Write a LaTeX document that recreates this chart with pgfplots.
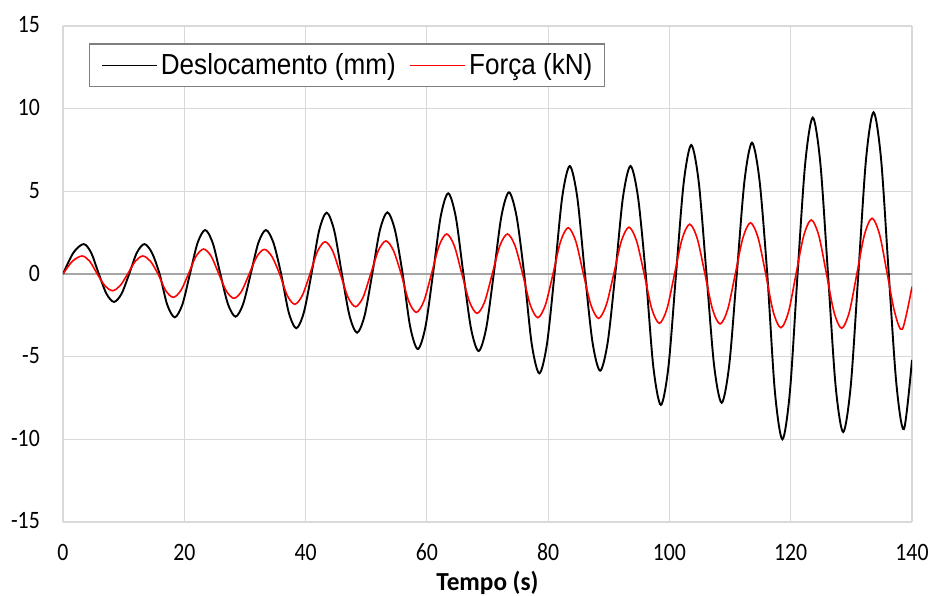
\documentclass[border=0pt]{standalone}
\usepackage{fontspec}
\setmainfont{Carlito}[FakeStretch=0.87]
\newfontfamily\labelfont{Carlito}[FakeStretch=0.97]
\newfontfamily\legendfont{Liberation Sans}[FakeStretch=0.9]
\usepackage{pgfplots}
\pgfplotsset{compat=1.18}
\definecolor{gridgray}{HTML}{D9D9D9}
\definecolor{zerogray}{HTML}{A6A6A6}
\definecolor{legbox}{HTML}{7F7F7F}
\begin{document}
\begin{tikzpicture}
\useasboundingbox (-63pt,-73pt) rectangle (872pt,522pt);
\begin{axis}[
  scale only axis,
  width=849pt, height=496pt,
  at={(0pt,0pt)}, anchor=south west,
  xmin=0, xmax=140, ymin=-15, ymax=15,
  xtick={0,20,40,60,80,100,120,140},
  xticklabels={0,20,40,60,80,100,120,140},
  ytick={-15,-10,-5,0,5,10,15},
  yticklabels={-15,-10,-5,0,5,10,15},
  extra y ticks={0}, extra y tick labels={},
  extra y tick style={grid=major, major grid style={color=zerogray, line width=1.3pt}},
  grid=major,
  major grid style={color=gridgray, line width=1.2pt},
  axis line style={draw=none},
  major tick length=0pt,
  tick label style={font=\fontsize{25}{30}\selectfont, text=black},
  xticklabel style={anchor=base, inner sep=0pt, yshift=-38pt},
  yticklabel style={anchor=east, inner sep=0pt, xshift=-23pt, yshift=1pt},
  xlabel={\labelfont\bfseries Tempo (s)},
  xlabel style={at={(rel axis cs:0.5,0)}, anchor=base, inner sep=0pt, yshift=-68pt, font=\fontsize{26}{31}\selectfont},
  legend columns=2,
  legend cell align=left,
  legend image code/.code={\draw[#1, line width=1.3pt] (0pt,0pt) -- (55pt,0pt);},
  legend style={at={(rel axis cs:0.0306,0.965)}, anchor=north west,
    draw=legbox, line width=1.2pt, fill=white,
    font=\legendfont\fontsize{29}{35}\selectfont,
    inner xsep=12pt, inner ysep=10pt,
    nodes={inner sep=0pt, anchor=west},
    /tikz/every odd column/.style={column sep=3pt},
    /tikz/every even column/.style={column sep=14pt}},
]
\addplot[black, line width=1.9pt, smooth] coordinates {
(0,0) (1.70,1.28) (3.40,1.81) (4.65,1.28) (5.91,0) (7.16,-1.19) (8.41,-1.69) (9.66,-1.19)
(10.91,0) (12.17,1.28) (13.42,1.81) (14.67,1.28) (15.93,0) (17.18,-1.85) (18.43,-2.62) (19.68,-1.85)
(20.93,0) (22.19,1.88) (23.44,2.66) (24.69,1.88) (25.95,0) (27.20,-1.82) (28.45,-2.58) (29.70,-1.82)
(30.95,0) (32.21,1.88) (33.46,2.66) (34.71,1.88) (35.97,0) (37.22,-2.32) (38.47,-3.28) (39.72,-2.32)
(40.97,0) (42.23,2.62) (43.48,3.71) (44.73,2.62) (45.99,0) (47.24,-2.51) (48.49,-3.55) (49.74,-2.51)
(50.99,0) (52.25,2.64) (53.50,3.73) (54.75,2.64) (56.01,0) (57.26,-3.21) (58.51,-4.54) (59.76,-3.21)
(61.01,0) (62.27,3.45) (63.52,4.88) (64.77,3.45) (66.03,0) (67.28,-3.29) (68.53,-4.66) (69.78,-3.29)
(71.03,0) (72.29,3.49) (73.54,4.94) (74.79,3.49) (76.05,0) (77.30,-4.25) (78.55,-6.01) (79.80,-4.25)
(81.05,0) (82.31,4.62) (83.56,6.53) (84.81,4.62) (86.07,0) (87.32,-4.14) (88.57,-5.85) (89.82,-4.14)
(91.07,0) (92.33,4.62) (93.58,6.53) (94.83,4.62) (96.09,0) (97.34,-5.60) (98.59,-7.92) (99.84,-5.60)
(101.09,0) (102.35,5.51) (103.60,7.80) (104.85,5.51) (106.11,0) (107.36,-5.51) (108.61,-7.79) (109.86,-5.51)
(111.11,0) (112.37,5.61) (113.62,7.94) (114.87,5.61) (116.13,0) (117.38,-7.07) (118.63,-10.0) (119.88,-7.07)
(121.13,0) (122.39,6.69) (123.64,9.46) (124.89,6.69) (126.15,0) (127.40,-6.76) (128.65,-9.56) (129.90,-6.76)
(131.15,0) (132.41,6.91) (133.66,9.78) (134.91,6.91) (136.17,0) (137.42,-6.63) (138.67,-9.38) (140,-5.2)
};
\addlegendentry{Deslocamento (mm)}
\addplot[red, line width=1.6pt, smooth] coordinates {
(0,0) (1.55,0.77) (3.15,1.09) (4.40,0.77) (5.66,0) (6.91,-0.71) (8.16,-1.01) (9.41,-0.71)
(10.66,0) (11.92,0.77) (13.17,1.09) (14.42,0.77) (15.68,0) (16.93,-1.00) (18.18,-1.41) (19.43,-1.00)
(20.68,0) (21.94,1.07) (23.19,1.51) (24.44,1.07) (25.70,0) (26.95,-1.04) (28.20,-1.47) (29.45,-1.04)
(30.70,0) (31.96,1.05) (33.21,1.49) (34.46,1.05) (35.72,0) (36.97,-1.29) (38.22,-1.83) (39.47,-1.29)
(40.72,0) (41.98,1.38) (43.23,1.95) (44.48,1.38) (45.74,0) (46.99,-1.40) (48.24,-1.98) (49.49,-1.40)
(50.74,0) (52.00,1.41) (53.25,2.00) (54.50,1.41) (55.76,0) (57.01,-1.64) (58.26,-2.32) (59.51,-1.64)
(60.76,0) (62.02,1.71) (63.27,2.42) (64.52,1.71) (65.78,0) (67.03,-1.68) (68.28,-2.38) (69.53,-1.68)
(70.78,0) (72.04,1.71) (73.29,2.42) (74.54,1.71) (75.80,0) (77.05,-1.87) (78.30,-2.64) (79.55,-1.87)
(80.80,0) (82.06,1.98) (83.31,2.80) (84.56,1.98) (85.82,0) (87.07,-1.89) (88.32,-2.68) (89.57,-1.89)
(90.82,0) (92.08,2.00) (93.33,2.83) (94.58,2.00) (95.84,0) (97.09,-2.11) (98.34,-2.98) (99.59,-2.11)
(100.84,0) (102.10,2.13) (103.35,3.01) (104.60,2.13) (105.86,0) (107.11,-2.14) (108.36,-3.02) (109.61,-2.14)
(110.86,0) (112.12,2.19) (113.37,3.10) (114.62,2.19) (115.88,0) (117.13,-2.30) (118.38,-3.25) (119.63,-2.30)
(120.88,0) (122.14,2.31) (123.39,3.27) (124.64,2.31) (125.90,0) (127.15,-2.32) (128.40,-3.28) (129.65,-2.32)
(130.90,0) (132.16,2.38) (133.41,3.37) (134.66,2.38) (135.92,0) (137.17,-2.35) (138.42,-3.33) (140,-0.77)
};
\addlegendentry{Força (kN)}
\end{axis}
\end{tikzpicture}
\end{document}
